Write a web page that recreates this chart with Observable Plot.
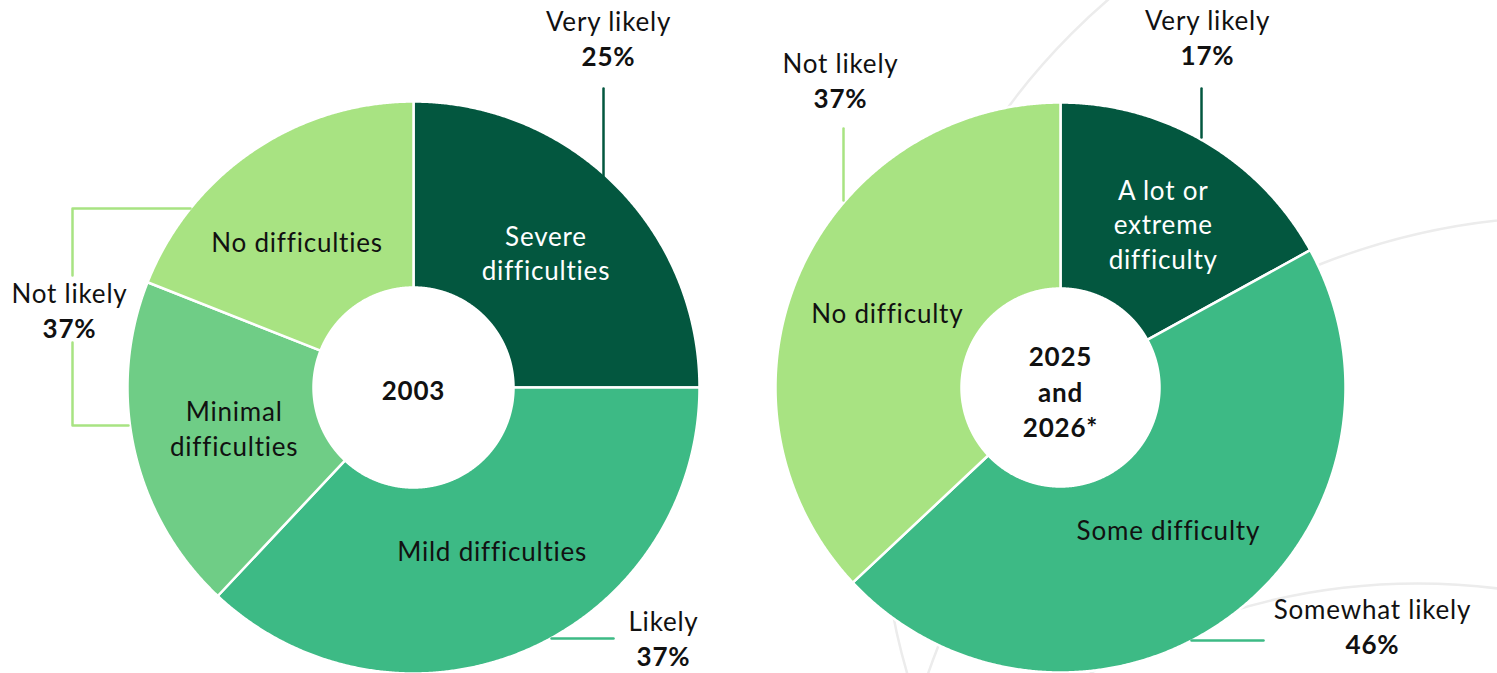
<!DOCTYPE html>
<html><head><meta charset="utf-8">
<script src="https://cdn.jsdelivr.net/npm/d3@7"></script>
<script src="https://cdn.jsdelivr.net/npm/@observablehq/plot@0.6"></script>
<style>
  html, body { margin: 0; padding: 0; background: #fff; }
  #chart svg { display: block; }
  #chart text { letter-spacing: 0.8px; font-variant-ligatures: none; font-feature-settings: "liga" 0, "clig" 0; }
</style>
</head><body><div id="chart"></div>
<script>
// ---------------- data ----------------
const panelYears = ["2003", "2025\nand\n2026*"];

const categories2003 = ["Severe\ndifficulties", "Mild difficulties", "Minimal\ndifficulties", "No difficulties"];
const values2003 = [25, 37, 19, 19];
const levels2003 = ["severe", "some", "minimal", "none"];

const categories2025 = ["A lot or\nextreme\ndifficulty", "Some difficulty", "No difficulty"];
const values2025 = [17, 46, 37];
const levels2025 = ["severe", "some", "none"];

const likelihood2003 = ["Very likely", "Likely", "Not likely"];
const likelihoodPct2003 = [25, 37, 37];
const likelihoodLevels2003 = ["severe", "some", "none"];

const likelihood2025 = ["Very likely", "Somewhat likely", "Not likely"];
const likelihoodPct2025 = [17, 46, 37];
const likelihoodLevels2025 = ["severe", "some", "none"];

const severityLevels = ["severe", "some", "minimal", "none"];
const severityColors = ["#03573F", "#3DBA85", "#6FCD86", "#A8E382"];

// ---------------- layout ----------------
const W = 1497, H = 673;
const FONT = "Lato, 'Open Sans', sans-serif";
const FS = 26;

const panels = [
  { year: panelYears[0], cats: categories2003, vals: values2003, levels: levels2003,
    cx: 413, cy: 387, R: 286, r: 100,
    nudge: [[-4, 1], [2, -15], [9, -2], [-8, 13]],
    lik: likelihood2003, pct: likelihoodPct2003, likLevels: likelihoodLevels2003,
    likPos: [[608, 22], [663, 622], [69, 294]],
    leaders: [
      [[603, 88], [603, 176]],
      [[551, 638], [613, 638]],
      [[190, 208], [72, 208], [72, 275]],
    ],
    extraLeaders: [ { level: "none", pts: [[72, 342], [72, 425], [128, 425]] } ]
  },
  { year: panelYears[1], cats: categories2025, vals: values2025, levels: levels2025,
    cx: 1060, cy: 387, R: 285, r: 99,
    nudge: [[5, 1], [-5, -14], [3, 1]],
    lik: likelihood2025, pct: likelihoodPct2025, likLevels: likelihoodLevels2025,
    likPos: [[1207, 21], [1372, 610], [840, 64]],
    leaders: [
      [[1201, 88], [1201, 137]],
      [[1191, 640], [1263, 640]],
      [[843, 128], [843, 200]],
    ],
    extraLeaders: []
  }
];

// decorative faint background rings (centre x, centre y, radius in px)
const ringCx = [1530, 1570, 1417];
const ringCy = [492, 896, 1223];
const ringR  = [649, 680, 640];
const rings = ringCx.map((x, i) => ({ x, y: ringCy[i], r: ringR[i] }));

// ---------------- geometry from data ----------------
const pie = d3.pie().sort(null).value(d => d);
const sliceRows = [], labelRows = [], centerRows = [], likRows = [], pctRows = [], leaderRows = [], holeRows = [];

panels.forEach((p, pi) => {
  const arcs = pie(p.vals);
  const arcGen = d3.arc().innerRadius(p.r).outerRadius(p.R);
  arcs.forEach((a, i) => {
    const key = `s${pi}-${i}`;
    const n = Math.max(8, Math.ceil((a.endAngle - a.startAngle) / 0.005));
    const pts = [];
    for (let k = 0; k <= n; k++) pts.push([a.startAngle + (a.endAngle - a.startAngle) * k / n, p.R]);
    for (let k = n; k >= 0; k--) pts.push([a.startAngle + (a.endAngle - a.startAngle) * k / n, p.r]);
    pts.push(pts[0]);
    pts.forEach(([t, rho]) => sliceRows.push({
      key, level: p.levels[i],
      x: p.cx + rho * Math.sin(t), y: p.cy - rho * Math.cos(t)
    }));
    const c = arcGen.centroid(a);
    labelRows.push({ text: p.cats[i], level: p.levels[i],
      x: p.cx + c[0] + p.nudge[i][0], y: p.cy + c[1] + p.nudge[i][1] });
  });
  holeRows.push({ x: p.cx, y: p.cy, r: p.r });
  centerRows.push({ text: p.year, x: p.cx, y: p.cy + (pi === 0 ? 1 : 3) });
  p.lik.forEach((l, i) => {
    likRows.push({ text: l, x: p.likPos[i][0], y: p.likPos[i][1] });
    pctRows.push({ text: `${p.pct[i]}%`, x: p.likPos[i][0], y: p.likPos[i][1] + 35 });
    p.leaders[i].forEach(([x, y]) => leaderRows.push({ key: `l${pi}-${i}`, level: p.likLevels[i], x, y }));
  });
  p.extraLeaders.forEach((e, j) => e.pts.forEach(([x, y]) => leaderRows.push({ key: `e${pi}-${j}`, level: e.level, x, y })));
});

const chart = Plot.plot({
  width: W, height: H,
  margin: 0,
  style: { fontFamily: FONT, background: "#fff" },
  x: { domain: [0, W], range: [0, W], axis: null },
  y: { domain: [0, H], range: [0, H], axis: null },
  r: { type: "identity" },
  color: { type: "ordinal", domain: severityLevels, range: severityColors },
  marks: [
    Plot.dot(rings, { x: "x", y: "y", r: "r", fill: "none", stroke: "#ececec", strokeWidth: 2.5 }),
    Plot.dot(holeRows, { x: "x", y: "y", r: "r", fill: "white", stroke: "none" }),
    Plot.line(sliceRows, { x: "x", y: "y", z: "key", fill: "level", stroke: "white", strokeWidth: 2.5, curve: "linear" }),
    Plot.line(leaderRows, { x: "x", y: "y", z: "key", stroke: "level", strokeWidth: 2.5, curve: "linear" }),
    Plot.text(labelRows.filter(d => d.level === "severe"), { x: "x", y: "y", text: "text", fill: "white", fontSize: FS, lineHeight: 1.33 }),
    Plot.text(labelRows.filter(d => d.level !== "severe"), { x: "x", y: "y", text: "text", fill: "#111", fontSize: FS, lineHeight: 1.33 }),
    Plot.text(centerRows, { x: "x", y: "y", text: "text", fill: "#111", fontSize: FS, fontWeight: "bold", lineHeight: 1.36 }),
    Plot.text(likRows, { x: "x", y: "y", text: "text", fill: "#111", fontSize: FS }),
    Plot.text(pctRows, { x: "x", y: "y", text: "text", fill: "#111", fontSize: FS, fontWeight: "bold" })
  ]
});
document.getElementById("chart").appendChild(chart);
</script>
</body></html>
